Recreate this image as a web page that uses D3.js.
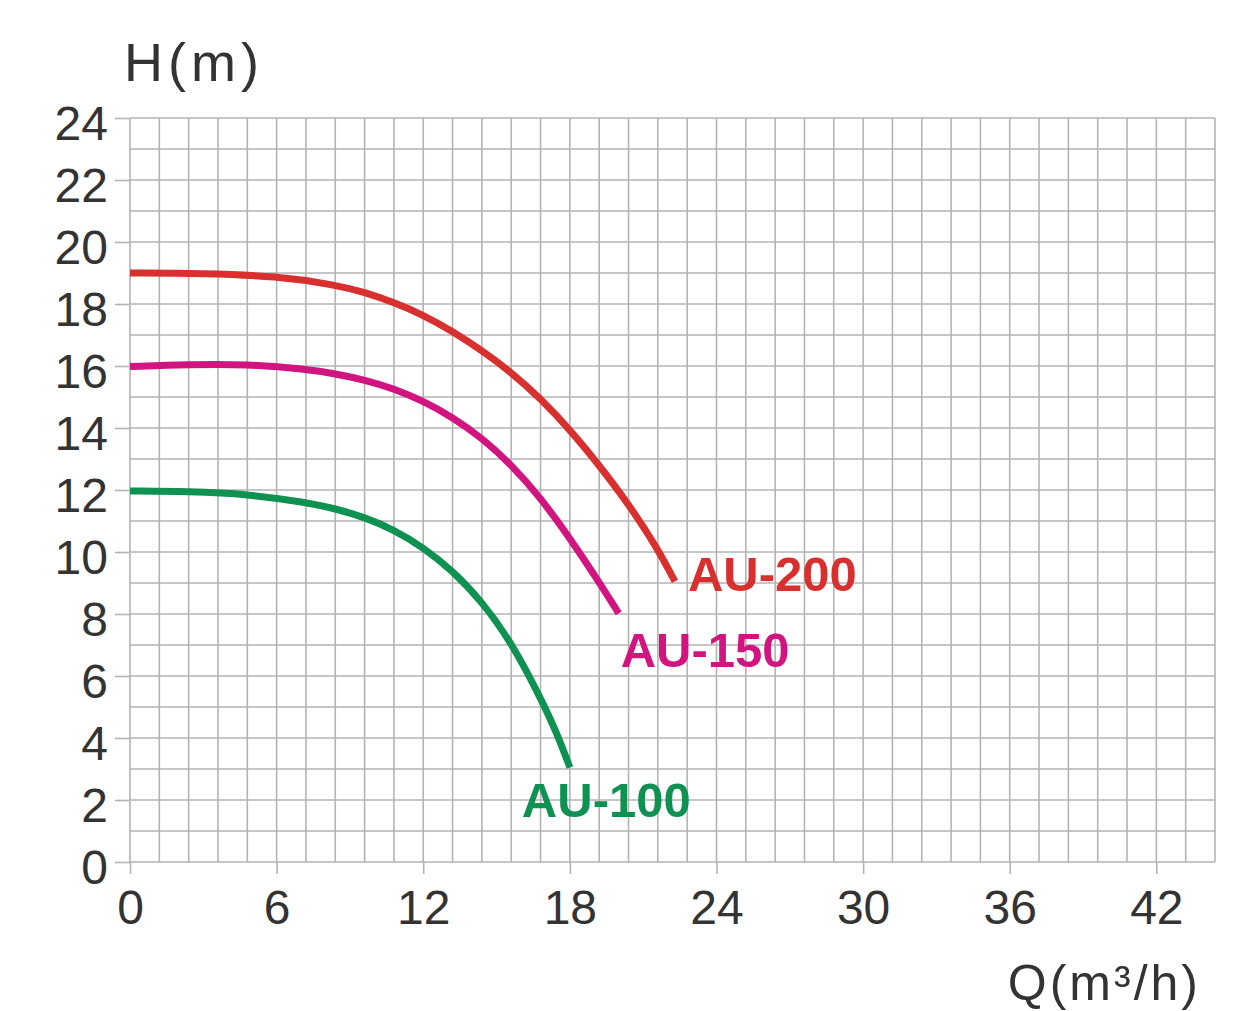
<!DOCTYPE html>
<html><head><meta charset="utf-8">
<script src="https://cdn.jsdelivr.net/npm/d3@7"></script>
<style>
html,body{margin:0;padding:0;background:#fff;}
svg{display:block;}
text{font-family:"Liberation Sans",Arial,sans-serif;}
</style></head>
<body>
<svg id="chart" width="1235" height="1011"></svg>
<script>
// ---- data ----
const xTicks = [0, 6, 12, 18, 24, 30, 36, 42];
const yTicks = [0, 2, 4, 6, 8, 10, 12, 14, 16, 18, 20, 22, 24];
const seriesNames = ["AU-200", "AU-150", "AU-100"];
const seriesColors = ["#d8302e", "#d1147f", "#0f9152"];
const q200 = [0, 3, 6, 8.4, 9.6, 10.8, 12, 13.2, 14.4, 15.6, 16.8, 18.0, 19.2, 20.4, 21.6, 22.3];
const h200 = [19.0, 18.99, 18.9, 18.62, 18.38, 18.05, 17.65, 17.12, 16.5, 15.8, 14.95, 13.95, 12.8, 11.55, 10.1, 9.05];
const q150 = [0, 2.4, 4.8, 7.2, 8.4, 9.6, 10.8, 12, 13.2, 14.4, 15.6, 16.8, 18.0, 19.2, 20.0];
const h150 = [15.98, 16.05, 16.06, 15.9, 15.75, 15.55, 15.27, 14.87, 14.35, 13.68, 12.82, 11.75, 10.45, 9.02, 8.02];
const q100 = [0, 2.4, 4.8, 7.2, 8.4, 9.6, 10.8, 12, 13.2, 14.4, 15.6, 16.8, 17.5, 18.0];
const h100 = [11.97, 11.95, 11.87, 11.6, 11.4, 11.12, 10.72, 10.15, 9.4, 8.4, 7.1, 5.3, 4.1, 3.05];
const seriesQ = [q200, q150, q100];
const seriesH = [h200, h150, h100];

// ---- layout ----
const svg = d3.select("#chart");
const plotL = 130, plotR = 1215, plotT = 118, plotB = 862;
const xMax = 44.4, yMax = 24;
const x = d3.scaleLinear().domain([0, xMax]).range([plotL, plotR]);
const y = d3.scaleLinear().domain([0, yMax]).range([plotB, plotT]);
const gridColor = "#b3b3b3";
const textColor = "#333333";

// grid
const g = svg.append("g");
const vGrid = d3.range(0, 38).map(i => +(i * 1.2).toFixed(2));
g.selectAll("line.v").data(vGrid).enter().append("line")
  .attr("x1", d => x(d)).attr("x2", d => x(d))
  .attr("y1", y(yMax)).attr("y2", y(0))
  .attr("stroke", gridColor).attr("stroke-width", 1.6);
const hGrid = d3.range(0, 25);
g.selectAll("line.h").data(hGrid).enter().append("line")
  .attr("x1", x(0)).attr("x2", x(xMax))
  .attr("y1", d => y(d)).attr("y2", d => y(d))
  .attr("stroke", gridColor).attr("stroke-width", 1.6);

// axes
const xAxis = d3.axisBottom(x).tickValues(xTicks).tickSize(12).tickPadding(16).tickFormat(d3.format("d"));
const xg = svg.append("g").attr("transform", `translate(0,${plotB})`).call(xAxis);
xg.select(".domain").remove();
xg.selectAll(".tick line").attr("stroke", gridColor).attr("stroke-width", 1.6);
xg.selectAll(".tick text").attr("fill", textColor).attr("font-size", 48)
  .attr("font-family", "Liberation Sans, Arial, sans-serif").attr("dy", "0.71em");

const yAxis = d3.axisLeft(y).tickValues(yTicks).tickSize(15).tickPadding(7).tickFormat(d3.format("d"));
const yg = svg.append("g").attr("transform", `translate(${plotL},0)`).call(yAxis);
yg.select(".domain").remove();
yg.selectAll(".tick line").attr("stroke", gridColor).attr("stroke-width", 1.6);
yg.selectAll(".tick text").attr("fill", textColor).attr("font-size", 48)
  .attr("font-family", "Liberation Sans, Arial, sans-serif").attr("dy", "0.44em");

// axis titles
svg.append("text").attr("x", 124).attr("y", 81)
  .attr("fill", textColor).attr("font-size", 54).attr("letter-spacing", 5).text("H(m)");
svg.append("text").attr("x", 1201).attr("y", 1000).attr("text-anchor", "end")
  .attr("fill", textColor).attr("font-size", 50).attr("letter-spacing", 3).text("Q(m³/h)");

// curves
const line = d3.line().x(d => x(d[0])).y(d => y(d[1])).curve(d3.curveBasis);
const labelOffsets = [[13, 10], [2, 54], [-48, 50]];
seriesNames.forEach((name, i) => {
  const pts = seriesQ[i].map((q, j) => [q, seriesH[i][j]]);
  svg.append("path").datum(pts).attr("d", line)
    .attr("fill", "none").attr("stroke", seriesColors[i]).attr("stroke-width", 7)
    .attr("stroke-linecap", "butt");
  const last = pts[pts.length - 1];
  svg.append("text")
    .attr("x", x(last[0]) + labelOffsets[i][0])
    .attr("y", y(last[1]) + labelOffsets[i][1])
    .attr("fill", seriesColors[i]).attr("font-size", 49).attr("font-weight", "bold")
    .text(name);
});
</script>
</body></html>
